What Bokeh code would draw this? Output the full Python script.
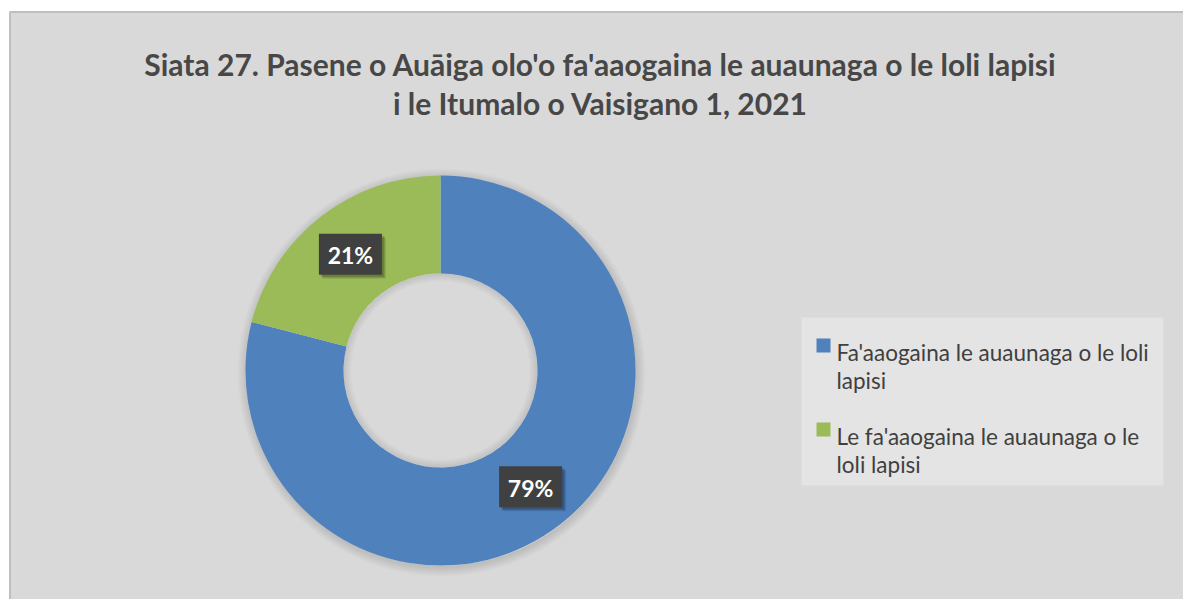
import math
import textwrap
from bokeh.plotting import figure
from bokeh.models import Range1d, ColumnDataSource
from bokeh.core.properties import value
from bokeh.embed import file_html
from bokeh.resources import INLINE

# ---------------- data ----------------
title_lines = [
    "Siata 27. Pasene o Auāiga olo'o fa'aaogaina le auaunaga o le loli lapisi",
    "i le Itumalo o Vaisigano 1, 2021",
]
categories = [
    "Fa'aaogaina le auaunaga o le loli lapisi",
    "Le fa'aaogaina le auaunaga o le loli lapisi",
]
values = [79, 21]
colors = ["#4f81bd", "#9bbb59"]

# ---------------- layout (page pixels) ----------------
W, H = 1183, 599
PAGE_H = 599


def py(page_y):
    return PAGE_H - page_y


p = figure(width=W, height=H, x_range=Range1d(0, W),
           y_range=Range1d(0, H),
           output_backend="svg", toolbar_location=None, min_border=0)
p.axis.visible = False
p.grid.visible = False
p.outline_line_color = None
p.background_fill_color = "white"
p.border_fill_color = "white"

# chart area background
p.quad(left=[9.5], right=[1300], bottom=[-50], top=[py(11.5)],
       fill_color="#d9d9d9", line_color="#bfbfbf", line_width=2)

# title
for i, t in enumerate(title_lines):
    p.text(x=[600], y=[py(63 + 39 * i)], text=[t], text_align="center",
           text_baseline="alphabetic", text_font=value("Lato"),
           text_font_style="bold", text_font_size="30px", text_color="#474747")

# donut
cx, cy = 440, py(370)
r_out, r_in = 195, 97
total = sum(values)

# soft outer shadow
for k in range(1, 10):
    p.annulus(x=[cx + 1], y=[cy - 2], inner_radius=r_out - 2, outer_radius=r_out + k,
              fill_color="black", fill_alpha=0.012, line_color=None)
# inner shadow of hole
for k in range(1, 9):
    p.annulus(x=[cx], y=[cy], inner_radius=r_in - k, outer_radius=r_in,
              fill_color="black", fill_alpha=0.012, line_color=None)

starts, ends, mids = [], [], []
a = math.pi / 2
for v in values:
    sweep = 2 * math.pi * v / total
    starts.append(a)
    ends.append(a - sweep)
    mids.append(a - sweep / 2)
    a -= sweep

src = ColumnDataSource(dict(x=[cx] * len(values), y=[cy] * len(values),
                            start=starts, end=ends, color=colors))
p.annular_wedge(x="x", y="y", inner_radius=r_in, outer_radius=r_out,
                start_angle="start", end_angle="end", direction="clock",
                fill_color="color", line_color=None, source=src)

# data labels
r_lab = (r_out + r_in) / 2 + 1
lx = [cx + r_lab * math.cos(m) for m in mids]
ly = [cy + r_lab * math.sin(m) for m in mids]
labels = [f"{round(100 * v / total)}%" for v in values]
for dx, dy, al in [(4, -4, 0.10), (3, -3, 0.12), (2, -2, 0.15)]:
    p.rect(x=[x + dx for x in lx], y=[y + dy for y in ly], width=63, height=41,
           fill_color="black", fill_alpha=al, line_color=None)
p.rect(x=lx, y=ly, width=63, height=41, fill_color="#404040", line_color=None)
p.text(x=lx, y=[y - 1 for y in ly], text=labels, text_align="center",
       text_baseline="middle", text_font=value("Lato"), text_font_style="bold",
       text_font_size="23px", text_color="white")

# legend
p.quad(left=[801], right=[1163], bottom=[py(485)], top=[py(317)],
       fill_color="#e4e4e4", line_color=None)
for i, (cat, col) in enumerate(zip(categories, colors)):
    base = 352 + 84 * i
    p.rect(x=[823], y=[py(base - 7)], width=14, height=14,
           fill_color=col, line_color=None)
    lines = textwrap.wrap(cat, width=33)
    p.text(x=[836] * len(lines), y=[py(base + 28 * j) for j in range(len(lines))],
           text=lines, text_align="left", text_baseline="alphabetic",
           text_font=value("Lato"), text_font_size="22.5px", text_color="#404040")

open("out.html", "w").write(file_html(p, INLINE))
